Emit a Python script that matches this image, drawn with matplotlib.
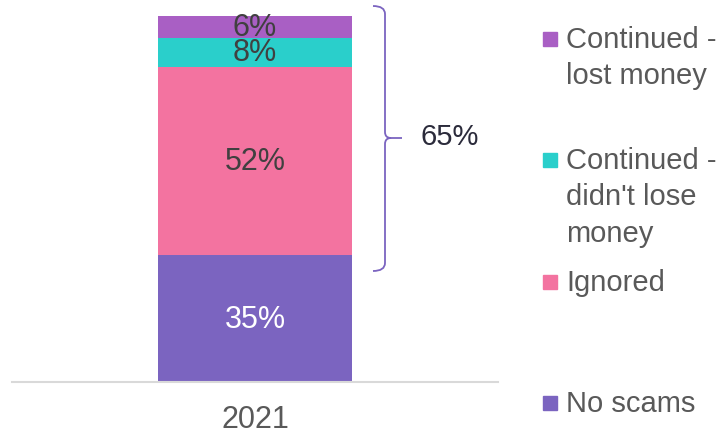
import numpy as np
import matplotlib.pyplot as plt
from matplotlib.path import Path
from matplotlib.patches import PathPatch, Rectangle

plt.rcParams['font.family'] = ['Liberation Sans', 'DejaVu Sans']

# stacked from the bottom up
categories = ['No scams', 'Ignored', "Continued - didn't lose money", 'Continued - lost money']
legend_lines = [['No scams'], ['Ignored'], ['Continued -', "didn't lose", 'money'], ['Continued -', 'lost money']]
values = [35, 52, 8, 6]
colors = ['#7B64C0', '#F373A0', '#2ACFCB', '#A95FC4']
label_colors = ['white', '#404040', '#404040', '#404040']
year = '2021'
bracket_label = '65%'

W, H = 727, 439
fig = plt.figure(figsize=(W / 100, H / 100), dpi=100)

ax = fig.add_axes([12 / W, (H - 383) / H, 486 / W, (383 - 17) / H])
bottom = 0
for v, c, lc in zip(values, colors, label_colors):
    ax.bar(0, v, bottom=bottom, width=1.0, color=c, zorder=2)
    ax.text(0, bottom + v / 2, f'{v}%', ha='center', va='center',
            fontsize=22, color=lc, zorder=3)
    bottom += v

ax.set_xlim(-1.25, 1.25)
ax.set_ylim(0, sum(values))
for s in ['top', 'left', 'right']:
    ax.spines[s].set_visible(False)
ax.spines['bottom'].set_color('#D9D9D9')
ax.spines['bottom'].set_linewidth(1.5)
ax.set_yticks([])
ax.set_xticks([0])
ax.set_xticklabels([year], fontsize=22, color='#595959')
ax.tick_params(axis='x', length=0, pad=16)

# overlay in pixel coordinates for the brace and the legend
ov = fig.add_axes([0, 0, 1, 1])
ov.set_xlim(0, W)
ov.set_ylim(H, 0)
ov.axis('off')
ov.patch.set_alpha(0)

bx, top, mid, bot = 385, 7, 139, 272
verts = [(373, top), (bx, top), (bx, top + 8),
         (bx, mid - 6), (bx, mid), (bx + 6, mid), (402, mid),
         (bx + 6, mid), (bx, mid), (bx, mid + 6),
         (bx, bot - 8), (bx, bot), (373, bot)]
codes = [Path.MOVETO, Path.CURVE3, Path.CURVE3,
         Path.LINETO, Path.CURVE3, Path.CURVE3, Path.LINETO,
         Path.MOVETO, Path.CURVE3, Path.CURVE3,
         Path.LINETO, Path.CURVE3, Path.CURVE3]
ov.add_patch(PathPatch(Path(verts, codes), fill=False, edgecolor='#7B64C0', lw=1.3))
ov.text(420, 137, bracket_label, fontsize=21, color='#2B2B3B', va='center', ha='left')

# legend, top entry first
entry_y = [404, 283, 161, 40]
for lines, c, y in zip(legend_lines, colors, entry_y):
    ov.add_patch(Rectangle((543, y - 7), 14, 14, color=c))
    for i, t in enumerate(lines):
        ov.text(566, y + i * 36.5, t, fontsize=21, color='#595959', va='center', ha='left')

fig.savefig('out.png', dpi=100)
